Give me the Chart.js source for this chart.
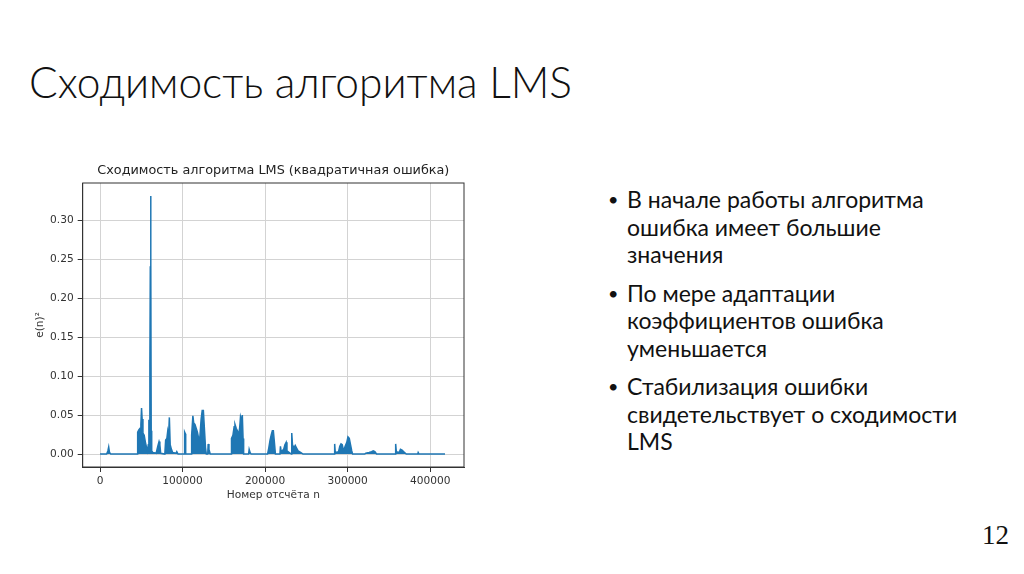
<!DOCTYPE html>
<html lang="ru">
<head>
<meta charset="utf-8">
<script src="https://cdn.jsdelivr.net/npm/chart.js@4/dist/chart.umd.min.js"></script>
<style>
  html, body { margin: 0; padding: 0; background: #fff; }
  body { width: 1024px; height: 574px; position: relative; overflow: hidden; }
  .slide-title {
    position: absolute; left: 29px; top: 56px;
    font-family: "Lato", sans-serif; font-weight: 300; font-size: 42.5px;
    color: #111; white-space: nowrap; line-height: 1.2;
  }
  .chart-box { position: absolute; left: 0; top: 150px; width: 480px; height: 360px; }
  .bullets {
    position: absolute; left: 608px; top: 186px; width: 360px;
    font-family: "Lato", sans-serif; font-size: 23px; color: #111;
    line-height: 27.5px; margin: 0; padding: 0; list-style: none;
  }
  .bullets li { position: relative; padding-left: 19px; margin-bottom: 11px; }
  .bullets li::before { content: "\2022"; position: absolute; left: 0; top: 0; font-size: 18px; }
  .page-num {
    position: absolute; left: 982px; top: 520px;
    font-family: "Liberation Serif", serif; font-size: 27px; color: #111;
  }
</style>
</head>
<body>
<div class="slide-title">Сходимость алгоритма LMS</div>
<div class="chart-box"><canvas id="lmsChart"></canvas></div>
<ul class="bullets">
  <li>В начале работы алгоритма ошибка имеет большие значения</li>
  <li>По мере адаптации коэффициентов ошибка уменьшается</li>
  <li>Стабилизация ошибки свидетельствует о сходимости LMS</li>
</ul>
<div class="page-num">12</div>

<script>
// огибающая квадратичной ошибки
const sampleIdx = [
  0, 8000, 9500, 10500, 11500, 13000,
  45000, 45600, 47000, 48500, 49500, 50300, 51000, 52000, 53500, 55000, 56500, 57500, 58500, 59200, 59800,
  60400, 60900, 61300, 61700, 62000, 62600, 64000, 68000, 70000, 71500, 72500, 73500,
  78500, 79500, 81000, 82000, 83000, 84000, 85000, 86500, 88000, 92000, 93000, 94500,
  102000, 102500, 103300, 103800,
  110500, 111000, 112500, 113500, 115000, 116500, 118000, 119500, 121000, 122500, 123800, 125200, 126500, 127800, 128800,
  130500, 131000, 132000, 133500,
  158800, 159300, 161000, 162500, 163500, 165000, 166500, 168000, 169300, 170200, 171500, 172400, 173300, 174000,
  180000, 180700, 181800, 183000,
  203000, 204500, 206000, 207500, 208800, 210000, 211200, 212500,
  218000, 218600, 219500, 222500, 224000, 225500, 226500,
  231800, 232300, 233200, 235000, 236500, 238000, 240000, 243000, 246000,
  284000, 284300, 285000, 289000, 290500, 292000, 293500, 295000, 297000, 299000, 300400, 302000, 303500, 305000, 306000,
  320500, 322000, 326000, 329000, 331000, 333000, 335000,
  357800, 358200, 359000, 362500, 364000, 366000, 368000, 370000, 371000,
  385000, 385500, 386500, 418000
];
const sqError = [
  0, 0, 0.004, 0.009, 0.002, 0,
  0, 0.028, 0.031, 0.033, 0.038, 0.059, 0.045, 0.027, 0.024, 0.015, 0.008, 0.004, 0.012, 0.044, 0.004,
  0.112, 0.240, 0.331, 0.245, 0.030, 0.004, 0.002, 0.001, 0.010, 0.016, 0.012, 0.001,
  0, 0.018, 0.020, 0.029, 0.022, 0.047, 0.012, 0.006, 0.002, 0.001, 0.003, 0,
  0, 0.028, 0.026, 0,
  0, 0.024, 0.049, 0.040, 0.038, 0.033, 0.028, 0.020, 0.022, 0.045, 0.056, 0.056, 0.032, 0.008, 0,
  0, 0.013, 0.006, 0,
  0, 0.020, 0.024, 0.035, 0.038, 0.033, 0.030, 0.024, 0.035, 0.048, 0.043, 0.050, 0.020, 0,
  0, 0.006, 0.002, 0,
  0, 0.008, 0.018, 0.025, 0.030, 0.030, 0.016, 0,
  0, 0.010, 0.003, 0.006, 0.012, 0.015, 0.004,
  0, 0.027, 0.012, 0.008, 0.011, 0.008, 0.004, 0.002, 0,
  0, 0.013, 0.002, 0.003, 0.010, 0.013, 0.012, 0.004, 0.010, 0.015, 0.022, 0.020, 0.012, 0.004, 0,
  0, 0.001, 0.002, 0.003, 0.004, 0.003, 0,
  0, 0.013, 0.003, 0.002, 0.006, 0.005, 0.003, 0.001, 0,
  0, 0.002, 0, 0
];
const xTicks = [0, 100000, 200000, 300000, 400000];
const yTicks = [0, 0.05, 0.10, 0.15, 0.20, 0.25, 0.30];

const plotTitle = 'Сходимость алгоритма LMS (квадратичная ошибка)';
const tickFont = { family: 'DejaVu Sans', size: 10.6 };

// рамка вокруг области графика и заголовок как в matplotlib
const framePlugin = {
  id: 'frame',
  afterDraw(chart) {
    const { ctx, chartArea: a } = chart;
    ctx.save();
    ctx.strokeStyle = '#333';
    ctx.lineWidth = 1;
    ctx.strokeRect(a.left, a.top, a.right - a.left, a.bottom - a.top);
    ctx.fillStyle = '#222';
    ctx.font = '12.8px "DejaVu Sans"';
    ctx.textAlign = 'center';
    ctx.textBaseline = 'middle';
    ctx.fillText(plotTitle, (a.left + a.right) / 2, a.top - 12);
    ctx.restore();
  }
};

new Chart(document.getElementById('lmsChart'), {
  type: 'line',
  data: {
    datasets: [{
      label: 'e(n)²',
      data: sampleIdx.map((n, i) => ({ x: n, y: sqError[i] })),
      borderColor: '#1f77b4',
      backgroundColor: '#1f77b4',
      borderWidth: 1.5,
      pointRadius: 0,
      tension: 0,
      fill: 'origin'
    }]
  },
  options: {
    responsive: true,
    maintainAspectRatio: false,
    animation: false,
    layout: { padding: { left: 25, right: 16, top: 33, bottom: 0 } },
    plugins: {
      legend: { display: false },
      tooltip: { enabled: false },
      title: { display: false }
    },
    scales: {
      x: {
        type: 'linear',
        min: -21000,
        max: 441000,
        afterFit: s => { s.height = 43; },
        afterBuildTicks: s => { s.ticks = xTicks.map(v => ({ value: v })); },
        grid: { color: '#d3d3d3', tickColor: '#333', tickLength: 5 },
        border: { color: '#333' },
        ticks: { color: '#333', font: tickFont, padding: 3, maxRotation: 0, callback: v => String(v) },
        title: { display: true, text: 'Номер отсчёта n', color: '#333', font: tickFont, padding: { top: 0, bottom: 8.6 } }
      },
      y: {
        min: -0.0166,
        max: 0.3476,
        afterFit: s => { s.width = 57.7; },
        afterBuildTicks: s => { s.ticks = yTicks.map(v => ({ value: v })); },
        grid: { color: '#d3d3d3', tickColor: '#333', tickLength: 5 },
        border: { color: '#333' },
        ticks: { color: '#333', font: tickFont, padding: 4, callback: v => v.toFixed(2) },
        title: { display: true, text: 'e(n)²', color: '#333', font: tickFont, padding: { top: 8.6, bottom: 0 } }
      }
    }
  },
  plugins: [framePlugin]
});
</script>
</body>
</html>
